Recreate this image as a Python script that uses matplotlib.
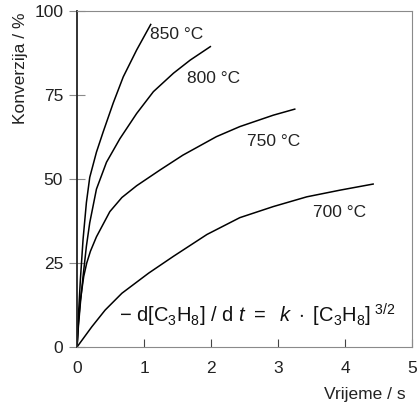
import numpy as np
import matplotlib
matplotlib.use("Agg")
import matplotlib.pyplot as plt

plt.rcParams['font.family'] = ['Liberation Sans', 'DejaVu Sans']
plt.rcParams['mathtext.fontset'] = 'custom'
plt.rcParams['mathtext.rm'] = 'Liberation Sans'
plt.rcParams['mathtext.it'] = 'Liberation Sans:italic'

# konverzija propana u vremenu, ocitano sa slike
t_850 = [0, 0.02, 0.05, 0.09, 0.14, 0.19, 0.29, 0.39, 0.54, 0.69, 0.89, 1.10]
x_850 = [0, 9, 20, 32, 43, 50.5, 58, 64, 72.6, 80.4, 88.4, 96]

t_800 = [0, 0.02, 0.05, 0.09, 0.14, 0.19, 0.29, 0.44, 0.64, 0.89, 1.14, 1.44, 1.69, 1.99]
x_800 = [0, 6, 13, 21, 30, 37, 47, 55, 62, 69.5, 76, 81.5, 85.4, 89.4]

t_750 = [0, 0.02, 0.05, 0.1, 0.145, 0.2, 0.29, 0.49, 0.67, 0.89, 1.24, 1.58, 2.08, 2.43, 2.93, 3.25]
x_750 = [0, 7, 14, 21, 25, 28.5, 32.8, 40.3, 44.5, 48, 52.7, 57.1, 62.6, 65.6, 69, 70.8]

t_700 = [0, 0.22, 0.42, 0.67, 1.07, 1.44, 1.94, 2.43, 2.93, 3.43, 3.93, 4.42]
x_700 = [0, 6, 11, 16, 22, 27, 33.5, 38.5, 41.8, 44.7, 46.7, 48.5]

labels = ['850 °C', '800 °C', '750 °C', '700 °C']
label_pos = [(1.09, 93), (1.64, 80), (2.54, 61.3), (3.52, 40)]

fig = plt.figure(figsize=(4.17, 4.05), dpi=100)
ax = fig.add_axes([0.1847, 0.1432, 0.8033, 0.8296])

for t, x in [(t_850, x_850), (t_800, x_800), (t_750, x_750), (t_700, x_700)]:
    ax.plot(t, x, color='black', lw=1.1)

for lab, (tx, ty) in zip(labels, label_pos):
    ax.text(tx, ty, lab, fontsize=12.5, va='center', ha='left', color='#222222')

ax.text(0.63, 7.3,
        r'$-\ \mathrm{d[C_3H_8]}\ /\ \mathrm{d}\ t\ =\ \ k\ \cdot\ \mathrm{[C_3H_8]}^{\ 3/2}$',
        fontsize=14.5, color='#111111')

ax.set_xlim(0, 5)
ax.set_ylim(0, 100)
ax.set_xticks([0, 1, 2, 3, 4, 5])
ax.set_yticks([0, 25, 50, 75, 100])

for s in ['top', 'right', 'bottom']:
    ax.spines[s].set_color('#8a8a8a')
ax.spines['left'].set_color('#222222')
ax.spines['left'].set_linewidth(1.3)

ax.tick_params(axis='x', direction='in', length=6, labelsize=12.5,
               labelcolor='#222222', color='#444444', pad=10)
ax.tick_params(axis='y', direction='inout', length=12, labelsize=12.5,
               labelcolor='#222222', color='#8a8a8a', pad=4)

fig.text(0.972, 0.008, 'Vrijeme / s', fontsize=12.5, ha='right', va='bottom',
         color='#222222')
fig.text(0.05, 0.97, 'Konverzija / %', fontsize=12.5, ha='center', va='top',
         rotation=90, color='#222222')

fig.savefig('out.png', dpi=100)
